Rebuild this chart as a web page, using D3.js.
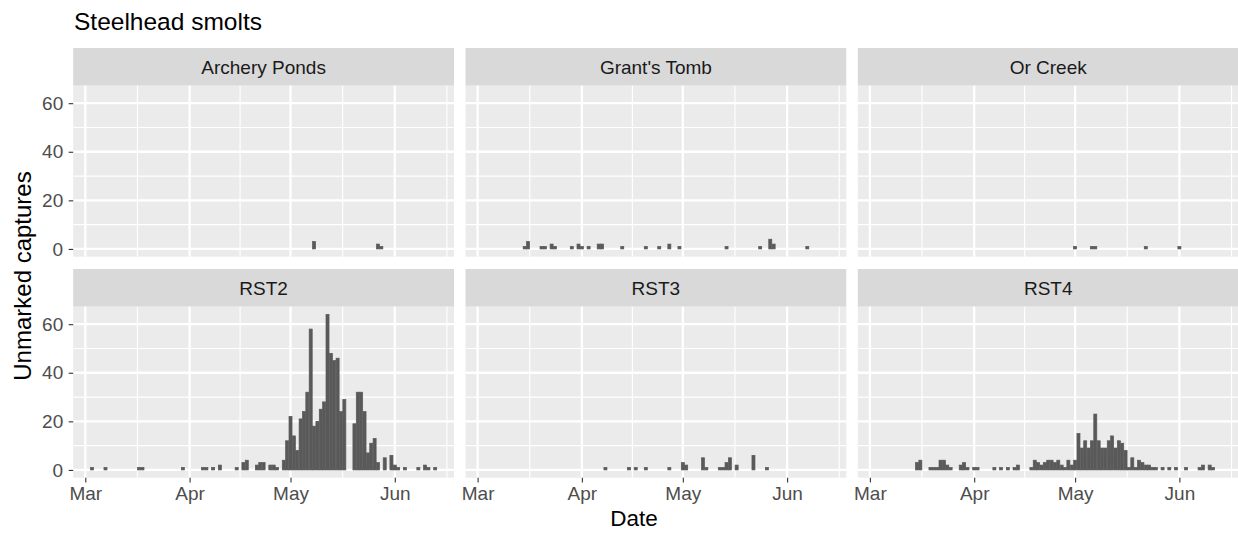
<!DOCTYPE html>
<html>
<head>
<meta charset="utf-8">
<script src="https://cdn.jsdelivr.net/npm/d3@7"></script>
<style>
  body { margin: 0; background: #fff; }
  text { font-family: "Liberation Sans", Arial, Helvetica, sans-serif; }
</style>
</head>
<body>
<svg id="chart" width="1238" height="533"></svg>
<script>
// Daily unmarked steelhead smolt captures per trap site
const sites = ["Archery Ponds", "Grant's Tomb", "Or Creek", "RST2", "RST3", "RST4"];

const archeryDates  = ["05-08", "05-27", "05-28"];
const archeryCounts = [3, 2, 1];

const grantsDates  = ["03-15", "03-16", "03-20", "03-21", "03-23", "03-24", "03-29", "03-31", "04-01", "04-03",
                      "04-06", "04-07", "04-13", "04-20", "04-24", "04-27", "04-30", "05-14", "05-24", "05-27",
                      "05-28", "06-07"];
const grantsCounts = [1, 3, 1, 1, 2, 1, 1, 2, 1, 1, 2, 2, 1, 1, 1, 2, 1, 1, 1, 4, 2, 1];

const orCreekDates  = ["05-01", "05-06", "05-07", "05-22", "06-01"];
const orCreekCounts = [1, 1, 1, 1, 1];

const rst2Dates  = ["03-03", "03-07", "03-17", "03-18", "03-30", "04-05", "04-06", "04-08", "04-10", "04-15",
                    "04-17", "04-18", "04-21", "04-22", "04-23", "04-25", "04-26", "04-27", "04-29", "04-30",
                    "05-01", "05-02", "05-03", "05-04", "05-05", "05-06", "05-07", "05-08", "05-09", "05-10",
                    "05-11", "05-12", "05-13", "05-14", "05-15", "05-16", "05-17", "05-20", "05-21", "05-22",
                    "05-23", "05-24", "05-25", "05-26", "05-27", "05-29", "05-31", "06-01", "06-02", "06-04",
                    "06-08", "06-10", "06-11", "06-13"];
const rst2Counts = [1, 1, 1, 1, 1, 1, 1, 1, 2, 1,
                    3, 4, 2, 3, 3, 2, 2, 1, 4, 12,
                    22, 14, 8, 21, 24, 32, 58, 18, 20, 25,
                    28, 64, 48, 45, 46, 24, 29, 19, 32, 32,
                    24, 7, 11, 13, 3, 5, 6, 2, 1, 1,
                    1, 2, 1, 1];

const rst3Dates  = ["04-08", "04-15", "04-17", "04-20", "04-27", "05-01", "05-02", "05-07", "05-08", "05-12",
                    "05-13", "05-14", "05-15", "05-17", "05-22", "05-26"];
const rst3Counts = [1, 1, 1, 1, 1, 3, 2, 5, 1, 1, 1, 3, 5, 2, 6, 1];

const rst4Dates  = ["03-15", "03-16", "03-19", "03-20", "03-21", "03-22", "03-23", "03-24", "03-25", "03-28",
                    "03-29", "03-30", "04-01", "04-02", "04-07", "04-09", "04-11", "04-13", "04-14", "04-18",
                    "04-19", "04-20", "04-21", "04-22", "04-23", "04-24", "04-25", "04-26", "04-27", "04-28",
                    "04-29", "04-30", "05-01", "05-02", "05-03", "05-04", "05-05", "05-06", "05-07", "05-08",
                    "05-09", "05-10", "05-11", "05-12", "05-13", "05-14", "05-15", "05-16", "05-17", "05-18",
                    "05-19", "05-20", "05-21", "05-22", "05-23", "05-24", "05-25", "05-27", "05-29", "05-31",
                    "06-03", "06-07", "06-08", "06-10", "06-11"];
const rst4Counts = [3, 4, 1, 1, 1, 4, 4, 2, 1, 2,
                    3, 1, 1, 1, 1, 1, 1, 1, 2, 1,
                    4, 3, 2, 3, 4, 4, 3, 4, 2, 1,
                    4, 2, 4, 15, 9, 12, 9, 12, 23, 12,
                    9, 9, 12, 14, 9, 12, 11, 8, 1, 5,
                    1, 4, 3, 2, 2, 1, 1, 1, 1, 1,
                    1, 1, 2, 2, 1];

const monthTicks  = ["03-01", "04-01", "05-01", "06-01"];
const monthLabels = ["Mar", "Apr", "May", "Jun"];
const countTicks  = [0, 20, 40, 60];

const chartTitle = "Steelhead smolts";
const xTitle = "Date";
const yTitle = "Unmarked captures";

// ---- assemble ----
const YEAR = "2021-";
const parse = d3.utcParse("%Y-%m-%d");
const toDate = s => parse(YEAR + s);
const DAY = 864e5;

const seriesDates  = [archeryDates, grantsDates, orCreekDates, rst2Dates, rst3Dates, rst4Dates];
const seriesCounts = [archeryCounts, grantsCounts, orCreekCounts, rst2Counts, rst3Counts, rst4Counts];
const panels = sites.map((name, i) => ({
  name,
  rows: seriesDates[i].map((s, j) => ({ date: toDate(s), n: seriesCounts[i][j] }))
}));

// ---- layout ----
const panelW = 380.8, panelH = 171, gapX = 11.5;
const stripH = 37.7;
const left0 = 73.2;
const rowTop = [48, 269];      // strip tops
const barFrac = 0.9;

// shared scales with 5% padding around the data extent (bars are 0.9 day wide)
const all = panels.flatMap(p => p.rows);
const xmin = d3.min(all, d => +d.date) - barFrac / 2 * DAY;
const xmax = d3.max(all, d => +d.date) + barFrac / 2 * DAY;
const xpad = (xmax - xmin) * 0.05;
const x = d3.scaleUtc().domain([new Date(xmin - xpad), new Date(xmax + xpad)]).range([0, panelW]);

const ymax = d3.max(all, d => d.n);
const y = d3.scaleLinear().domain([-ymax * 0.05, ymax * 1.05]).range([panelH, 0]);

const majorX = monthTicks.map(toDate);
// minor breaks sit midway between majors, extended one step past the last
const minorX = [];
for (let i = 0; i < majorX.length - 1; i++) minorX.push(new Date((+majorX[i] + +majorX[i + 1]) / 2));
minorX.push(new Date(+majorX[majorX.length - 1] + (+majorX[majorX.length - 1] - +majorX[majorX.length - 2]) / 2));
const minorY = [];
for (let i = 0; i < countTicks.length - 1; i++) minorY.push((countTicks[i] + countTicks[i + 1]) / 2);

const svg = d3.select("#chart");

svg.append("text")
  .attr("x", 74).attr("y", 30)
  .attr("font-size", 24.5).attr("fill", "#000")
  .text(chartTitle);

panels.forEach((p, i) => {
  const col = i % 3, row = Math.floor(i / 3);
  const px = left0 + col * (panelW + gapX);
  const sy = rowTop[row];
  const py = sy + stripH;

  // strip
  svg.append("rect").attr("x", px).attr("y", sy).attr("width", panelW).attr("height", stripH).attr("fill", "#D9D9D9");
  svg.append("text")
    .attr("x", px + panelW / 2).attr("y", sy + stripH / 2 + 6.9)
    .attr("text-anchor", "middle").attr("font-size", 19).attr("fill", "#1A1A1A")
    .text(p.name);

  const g = svg.append("g").attr("transform", `translate(${px},${py})`);
  g.append("rect").attr("width", panelW).attr("height", panelH).attr("fill", "#EBEBEB");

  const grid = g.append("g");
  grid.selectAll(".minx").data(minorX.filter(d => x(d) >= 0 && x(d) <= panelW)).join("line")
    .attr("x1", d => x(d)).attr("x2", d => x(d)).attr("y1", 0).attr("y2", panelH)
    .attr("stroke", "#fff").attr("stroke-width", 1.15);
  grid.selectAll(".miny").data(minorY).join("line")
    .attr("x1", 0).attr("x2", panelW).attr("y1", d => y(d)).attr("y2", d => y(d))
    .attr("stroke", "#fff").attr("stroke-width", 1.15);
  grid.selectAll(".majx").data(majorX).join("line")
    .attr("x1", d => x(d)).attr("x2", d => x(d)).attr("y1", 0).attr("y2", panelH)
    .attr("stroke", "#fff").attr("stroke-width", 2.3);
  grid.selectAll(".majy").data(countTicks).join("line")
    .attr("x1", 0).attr("x2", panelW).attr("y1", d => y(d)).attr("y2", d => y(d))
    .attr("stroke", "#fff").attr("stroke-width", 2.3);

  // daily bars
  g.selectAll(".bar").data(p.rows).join("rect")
    .attr("x", d => x(new Date(+d.date - barFrac / 2 * DAY)))
    .attr("width", d => x(new Date(+d.date + barFrac / 2 * DAY)) - x(new Date(+d.date - barFrac / 2 * DAY)))
    .attr("y", d => y(d.n))
    .attr("height", d => y(0) - y(d.n))
    .attr("fill", "#595959")
    .attr("stroke", "#595959").attr("stroke-width", 0.7);

  // y axis on the left column
  if (col === 0) {
    const ay = g.append("g").call(d3.axisLeft(y).tickValues(countTicks).tickSize(4.5).tickPadding(5.5));
    ay.select(".domain").remove();
    ay.selectAll(".tick line").attr("stroke", "#333333").attr("stroke-width", 1.1);
    ay.selectAll(".tick text").attr("font-size", 19).attr("fill", "#4D4D4D")
      .attr("font-family", '"Liberation Sans", Arial, sans-serif');
  }
  // x axis on the bottom row
  if (row === 1) {
    const ax = g.append("g").attr("transform", `translate(0,${panelH})`)
      .call(d3.axisBottom(x).tickValues(majorX).tickSize(4.8).tickPadding(4)
        .tickFormat((d, k) => monthLabels[k]));
    ax.select(".domain").remove();
    ax.selectAll(".tick line").attr("stroke", "#333333").attr("stroke-width", 1.1);
    ax.selectAll(".tick text").attr("font-size", 19).attr("fill", "#4D4D4D")
      .attr("font-family", '"Liberation Sans", Arial, sans-serif');
  }
});

svg.append("text")
  .attr("x", 634).attr("y", 526)
  .attr("text-anchor", "middle").attr("font-size", 22.5).attr("fill", "#000")
  .text(xTitle);

svg.append("text")
  .attr("transform", "translate(30.5,276) rotate(-90)")
  .attr("text-anchor", "middle").attr("font-size", 24).attr("fill", "#000")
  .text(yTitle);
</script>
</body>
</html>
